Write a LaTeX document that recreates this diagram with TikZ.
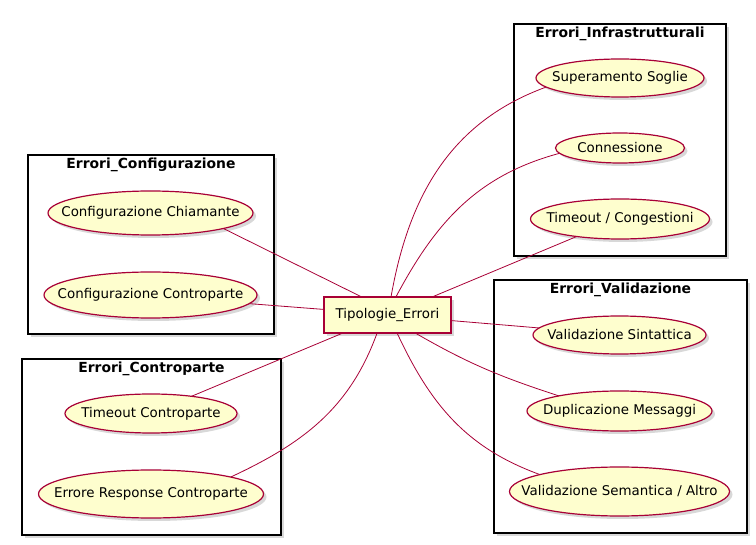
\documentclass[tikz,border=0pt]{standalone}
\usepackage{fontspec}
\setmainfont{DejaVu Sans}
\usetikzlibrary{shapes.geometric, positioning, shadows}
\usepackage{xcolor}
\definecolor{umlred}{HTML}{A80036}
\definecolor{umlfill}{HTML}{FEFECE}
\newcommand{\uctext}[1]{\makebox[0pt]{#1}}

\begin{document}
\begin{tikzpicture}[
    x=1pt, y=1pt,
    on grid,
    every node/.style={font=\fontsize{13.4}{16}\selectfont, inner sep=0pt, outer sep=0pt},
    package/.style={draw=black, line width=1.5pt, fill=white, drop shadow={shadow xshift=3pt, shadow yshift=-3pt, opacity=0.3}},
    pkgtitle/.style={font=\fontsize{13.9}{16}\selectfont\bfseries},
    usecase/.style={ellipse, draw=umlred, line width=1.2pt, fill=umlfill, drop shadow={shadow xshift=3pt, shadow yshift=-3pt, opacity=0.3}},
    tipo/.style={rectangle, draw=umlred, line width=1.2pt, fill=umlfill, minimum width=127pt, minimum height=36pt, drop shadow={shadow xshift=3pt, shadow yshift=-3pt, opacity=0.3}},
    link/.style={draw=umlred, line width=0.8pt}
]
   \useasboundingbox (0,0) rectangle (756,-545);

   % Packages
   \node[package, minimum width=246pt, minimum height=179pt] (cfg) at (151,-244.5) {};
   \node[pkgtitle] (cfgT) at ([yshift=-10pt]cfg.north) {Errori\_Configurazione};
   \node[package, minimum width=259pt, minimum height=176pt] (ctr) at (151.5,-447) {};
   \node[pkgtitle] (ctrT) at ([yshift=-10pt]ctr.north) {Errori\_Controparte};
   \node[package, minimum width=212pt, minimum height=232pt] (infra) at (620,-140) {};
   \node[pkgtitle] (infraT) at ([yshift=-10pt]infra.north) {Errori\_Infrastrutturali};
   \node[package, minimum width=253pt, minimum height=253pt] (valid) at (620.5,-406.5) {};
   \node[pkgtitle] (validT) at ([yshift=-10pt]valid.north) {Errori\_Validazione};

   % Central node
   \node[tipo] (tip) at (387.5,-315) {Tipologie\_Errori};

   % Use cases
   \node[usecase, minimum width=205pt, minimum height=44pt] (chiam) at (150.5,-213) {\uctext{Configurazione Chiamante}};
   \node[usecase, minimum width=213pt, minimum height=46pt] (ctrcfg) [below=82pt of chiam] {\uctext{Configurazione Controparte}};
   \node[usecase, minimum width=172pt, minimum height=39pt] (tctr) at (151,-413.5) {\uctext{Timeout Controparte}};
   \node[usecase, minimum width=225pt, minimum height=48pt] (errresp) [below=80.5pt of tctr] {\uctext{Errore Response Controparte}};
   \node[usecase, minimum width=168pt, minimum height=38pt] (sup) at (620,-78) {\uctext{Superamento Soglie}};
   \node[usecase, minimum width=129pt, minimum height=30pt] (conn) [below=70pt of sup] {\uctext{Connessione}};
   \node[usecase, minimum width=179pt, minimum height=40pt] (tcong) [below=71pt of conn] {\uctext{Timeout / Congestioni}};
   \node[usecase, minimum width=173pt, minimum height=38pt] (sint) at (619.5,-335) {\uctext{Validazione Sintattica}};
   \node[usecase, minimum width=185pt, minimum height=40pt] (dup) [below=76pt of sint] {\uctext{Duplicazione Messaggi}};
   \node[usecase, minimum width=220pt, minimum height=49pt] (sem) [below=80.5pt of dup] {\uctext{Validazione Semantica / Altro}};

   % Links
   \draw[link] (tip.145) -- (chiam.-12);
   \draw[link] (tip.175) -- (ctrcfg.-5);
   \draw[link] (tip.202) -- (tctr.23);
   \draw[link] (tip.240) to[out=-110, in=25] (errresp.12);
   \draw[link] (tip.79) to[out=80, in=200] (sup.187);
   \draw[link] (tip.65) to[out=62, in=195] (conn.185);
   \draw[link] (tip.22) -- (tcong.202);
   \draw[link] (tip.-5) -- (sint.175);
   \draw[link] (tip.-33) to[out=-30, in=162] (dup.166);
   \draw[link] (tip.-62) to[out=-65, in=160] (sem.168);
\end{tikzpicture}
\end{document}
